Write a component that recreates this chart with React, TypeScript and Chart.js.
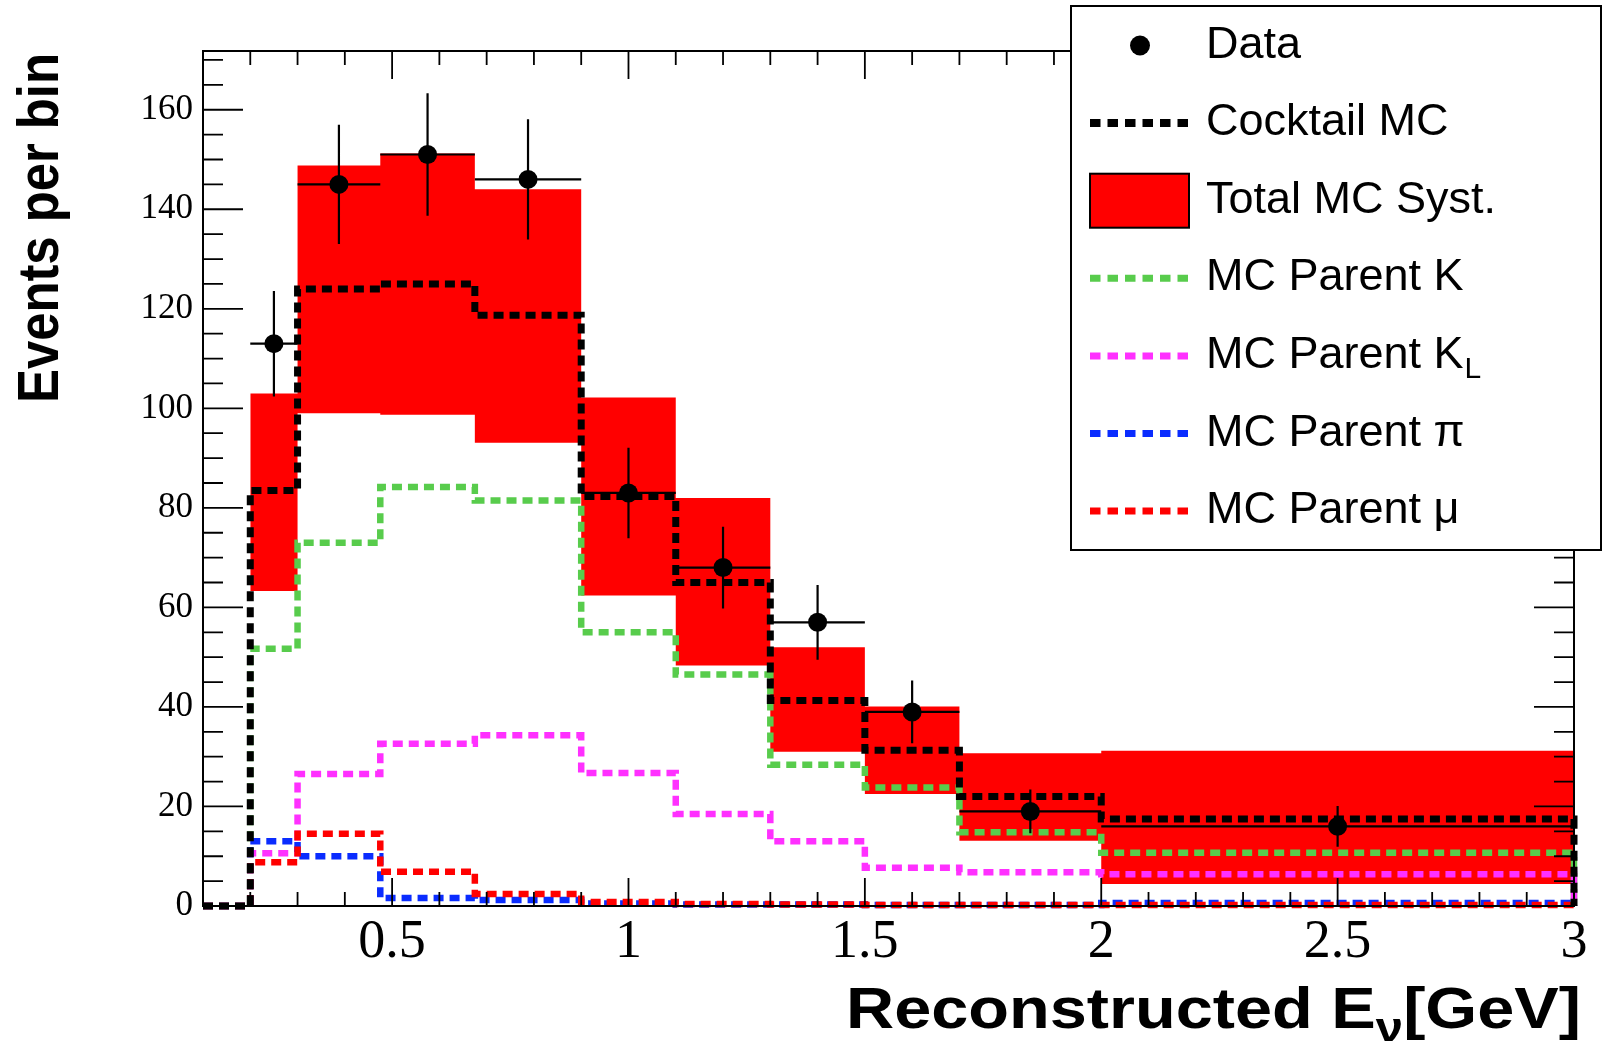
import React, { useEffect, useRef } from "react";
import { Chart, registerables } from "chart.js";

Chart.register(...registerables);

// ---------------- data ----------------
const binEdges = [0.1, 0.2, 0.3, 0.475, 0.675, 0.9, 1.1, 1.3, 1.5, 1.7, 2.0, 3.0];
const cocktailMC = [0, 83.5, 124, 125, 118.7, 82.3, 65, 41.3, 31.3, 22, 17.5];
const parentK = [0, 51.7, 73, 84.2, 81.5, 55, 46.5, 28.4, 23.8, 14.8, 10.7];
const parentKL = [0, 10.6, 26.5, 32.6, 34.3, 26.7, 18.5, 13, 7.7, 6.8, 6.4];
const parentPi = [0, 13, 10, 1.6, 1.2, 0.5, 0.3, 0.3, 0.2, 0.2, 0.6];
const parentMu = [0, 8.8, 14.5, 6.9, 2.4, 0.8, 0.4, 0.3, 0.2, 0.2, 0.2];

const systEdges = [0.2, 0.3, 0.475, 0.675, 0.9, 1.1, 1.3, 1.5, 1.7, 2.0, 3.0];
const systLow = [63.3, 99.0, 98.7, 93.1, 62.4, 48.3, 31, 22.5, 13.1, 4.4];
const systHigh = [103, 148.8, 151.2, 144, 102.2, 82, 52, 40.1, 30.7, 31.2];

const dataLow = [0.2, 0.3, 0.475, 0.675, 0.9, 1.1, 1.3, 1.5, 1.7, 2.0];
const dataHigh = [0.3, 0.475, 0.675, 0.9, 1.1, 1.3, 1.5, 1.7, 2.0, 3.0];
const dataCenter = [0.25, 0.3875, 0.575, 0.7875, 1.0, 1.2, 1.4, 1.6, 1.85, 2.5];
const dataCounts = [113, 145, 151, 146, 83, 68, 57, 39, 19, 16];
const dataErrors = [10.6, 12.0, 12.3, 12.1, 9.1, 8.2, 7.5, 6.3, 4.4, 4.1];

const xTickValues = [0.5, 1, 1.5, 2, 2.5, 3];
const yTickValues = [0, 20, 40, 60, 80, 100, 120, 140, 160];

const xTitleMain = "Reconstructed E";
const xTitleSub = "ν";
const xTitleEnd = "[GeV]";
const yTitle = "Events per bin";

const legendLabels = ["Data", "Cocktail MC", "Total MC Syst.", "MC Parent K", "MC Parent K", "MC Parent π", "MC Parent μ"];

// ---------------- styles ----------------
const COL_K = "#58cc4c";
const COL_KL = "#ff30ff";
const COL_PI = "#0a2cff";
const COL_MU = "#ff0000";
const COL_SYST = "#ff0000";
const SANS = "'Liberation Sans', Arial, sans-serif";
const SERIF = "'Liberation Serif', 'Times New Roman', serif";
const DASH = [10, 6];

function stepPts(edges: number[], vals: number[], drop: boolean) {
  const pts: { x: number; y: number }[] = vals.map((v, i) => ({ x: edges[i], y: v }));
  pts.push({ x: edges[edges.length - 1], y: vals[vals.length - 1] });
  if (drop) pts.push({ x: edges[edges.length - 1], y: 0 });
  return pts;
}

function errorPts() {
  const pts: { x: number; y: number | null }[] = [];
  dataCenter.forEach((c, i) => {
    pts.push({ x: dataLow[i], y: dataCounts[i] });
    pts.push({ x: dataHigh[i], y: dataCounts[i] });
    pts.push({ x: dataHigh[i], y: null });
    pts.push({ x: c, y: dataCounts[i] - dataErrors[i] });
    pts.push({ x: c, y: dataCounts[i] + dataErrors[i] });
    pts.push({ x: c, y: null });
  });
  return pts;
}

function histDS(label: string, vals: number[], color: string, width: number, dash: number[], order: number) {
  return {
    label,
    data: stepPts(binEdges, vals, true),
    borderColor: color,
    backgroundColor: color,
    borderWidth: width,
    borderDash: dash,
    borderCapStyle: "butt",
    borderJoinStyle: "miter",
    stepped: true,
    pointRadius: 0,
    pointHoverRadius: 0,
    fill: false,
    order,
    clip: false,
  };
}

const frameTicksPlugin = {
  id: "frameTicks",
  afterDraw(chart: any) {
    const { ctx, chartArea: a, scales } = chart;
    const xs = scales.x;
    const ys = scales.y;
    ctx.save();
    ctx.strokeStyle = "#000";
    ctx.setLineDash([]);
    ctx.lineWidth = 1.8;
    ctx.beginPath();
    for (let k = 0; k * 5 <= ys.max; k++) {
      const v = k * 5;
      const py = ys.getPixelForValue(v);
      const len = v % 20 === 0 ? 40 : 20;
      ctx.moveTo(a.left, py);
      ctx.lineTo(a.left + len, py);
      ctx.moveTo(a.right, py);
      ctx.lineTo(a.right - len, py);
    }
    for (let k = 2; k <= 30; k++) {
      const px = xs.getPixelForValue(k / 10);
      const len = k % 5 === 0 ? 28 : 14;
      ctx.moveTo(px, a.bottom);
      ctx.lineTo(px, a.bottom - len);
      ctx.moveTo(px, a.top);
      ctx.lineTo(px, a.top + len);
    }
    ctx.stroke();
    ctx.lineWidth = 2;
    ctx.strokeRect(a.left, a.top, a.right - a.left, a.bottom - a.top);
    ctx.restore();
  },
};

const titlesPlugin = {
  id: "titles",
  afterDraw(chart: any) {
    const { ctx } = chart;
    ctx.save();
    ctx.fillStyle = "#000";
    // y title
    ctx.font = `bold 57px ${SANS}`;
    const wy = ctx.measureText(yTitle).width;
    ctx.translate(57.5, 228);
    ctx.rotate(-Math.PI / 2);
    ctx.scale(350 / wy, 1);
    ctx.textAlign = "center";
    ctx.textBaseline = "alphabetic";
    ctx.fillText(yTitle, 0, 0);
    ctx.restore();

    // x title
    ctx.save();
    ctx.fillStyle = "#000";
    ctx.textAlign = "left";
    ctx.textBaseline = "alphabetic";
    const mainFont = `bold 57px ${SANS}`;
    const subFont = `bold 42px ${SANS}`;
    ctx.font = mainFont;
    const w1 = ctx.measureText(xTitleMain).width;
    const w3 = ctx.measureText(xTitleEnd).width;
    ctx.font = subFont;
    const w2 = ctx.measureText(xTitleSub).width;
    const total = w1 + w2 + w3;
    const targetW = 735;
    ctx.translate(846, 1028);
    ctx.scale(targetW / total, 1);
    ctx.font = mainFont;
    ctx.fillText(xTitleMain, 0, 0);
    ctx.font = subFont;
    ctx.fillText(xTitleSub, w1, 14);
    ctx.font = mainFont;
    ctx.fillText(xTitleEnd, w1 + w2, 0);
    ctx.restore();
  },
};

const legendPlugin = {
  id: "rootLegend",
  afterDraw(chart: any) {
    const { ctx } = chart;
    const x0 = 1071, y0 = 6, x1 = 1601, y1 = 550;
    ctx.save();
    ctx.fillStyle = "#fff";
    ctx.fillRect(x0, y0, x1 - x0, y1 - y0);
    ctx.strokeStyle = "#000";
    ctx.lineWidth = 2;
    ctx.setLineDash([]);
    ctx.strokeRect(x0, y0, x1 - x0, y1 - y0);

    const rowY = (i: number) => 45.5 + 77.6 * i;
    const sx0 = 1090, sx1 = 1189;
    // Data marker
    ctx.fillStyle = "#000";
    ctx.beginPath();
    ctx.arc(1140, rowY(0), 10, 0, Math.PI * 2);
    ctx.fill();
    // Lines
    const drawLine = (i: number, color: string, w: number) => {
      ctx.strokeStyle = color;
      ctx.lineWidth = w;
      ctx.setLineDash([10.5, 7]);
      ctx.lineCap = "butt";
      ctx.beginPath();
      ctx.moveTo(sx0, rowY(i));
      ctx.lineTo(sx1, rowY(i));
      ctx.stroke();
    };
    drawLine(1, "#000", 8);
    // Syst box
    ctx.setLineDash([]);
    ctx.fillStyle = COL_SYST;
    ctx.fillRect(sx0, rowY(2) - 27, sx1 - sx0, 54);
    ctx.strokeStyle = "#000";
    ctx.lineWidth = 2;
    ctx.strokeRect(sx0, rowY(2) - 27, sx1 - sx0, 54);
    drawLine(3, COL_K, 7);
    drawLine(4, COL_KL, 7);
    drawLine(5, COL_PI, 7);
    drawLine(6, COL_MU, 7);
    ctx.setLineDash([]);

    // Texts
    ctx.fillStyle = "#000";
    ctx.textAlign = "left";
    ctx.textBaseline = "alphabetic";
    legendLabels.forEach((t, i) => {
      const by = rowY(i) + 12;
      ctx.font = `45px ${SANS}`;
      ctx.fillText(t, 1206, by);
      if (i === 4) {
        const w = ctx.measureText(t).width;
        ctx.font = `30px ${SANS}`;
        ctx.fillText("L", 1206 + w + 1, by + 10);
      }
    });
    ctx.restore();
  },
};

export default function App() {
  const canvasRef = useRef<HTMLCanvasElement | null>(null);

  useEffect(() => {
    if (!canvasRef.current) return;
    const chart = new Chart(canvasRef.current, {
      type: "line",
      data: {
        datasets: [
          {
            label: "Data",
            data: dataCenter.map((c, i) => ({ x: c, y: dataCounts[i] })),
            showLine: false,
            pointRadius: 9.5,
            pointHoverRadius: 9.5,
            pointStyle: "circle",
            pointBackgroundColor: "#000",
            pointBorderWidth: 0,
            borderColor: "#000",
            order: 0,
            clip: false,
          },
          {
            label: "Data errors",
            data: errorPts(),
            borderColor: "#000",
            borderWidth: 2.2,
            pointRadius: 0,
            pointHoverRadius: 0,
            spanGaps: false,
            fill: false,
            order: 1,
            clip: false,
          },
          histDS("Cocktail MC", cocktailMC, "#000", 7, DASH, 2),
          histDS("MC Parent mu", parentMu, COL_MU, 6.5, DASH, 3),
          histDS("MC Parent pi", parentPi, COL_PI, 6.5, DASH, 4),
          histDS("MC Parent KL", parentKL, COL_KL, 6.5, DASH, 5),
          histDS("MC Parent K", parentK, COL_K, 6.5, DASH, 6),
          {
            label: "Syst high",
            data: stepPts(systEdges, systHigh, false),
            borderColor: "rgba(0,0,0,0)",
            borderWidth: 0,
            backgroundColor: COL_SYST,
            stepped: true,
            pointRadius: 0,
            pointHoverRadius: 0,
            fill: "+1",
            order: 7,
          },
          {
            label: "Syst low",
            data: stepPts(systEdges, systLow, false),
            borderColor: "rgba(0,0,0,0)",
            borderWidth: 0,
            backgroundColor: COL_SYST,
            stepped: true,
            pointRadius: 0,
            pointHoverRadius: 0,
            fill: false,
            order: 8,
          },
        ],
      } as any,
      options: {
        animation: false,
        responsive: false,
        devicePixelRatio: 1,
        events: [],
        layout: { padding: { top: 51, right: 29, bottom: 0, left: 0 }, autoPadding: false },
        plugins: { legend: { display: false }, tooltip: { enabled: false }, title: { display: false } },
        scales: {
          x: {
            type: "linear",
            min: 0.1,
            max: 3.0,
            afterBuildTicks: (s: any) => {
              s.ticks = xTickValues.map((v) => ({ value: v }));
            },
            afterFit: (s: any) => {
              s.height = 135;
            },
            grid: { display: false, drawTicks: false },
            border: { display: false },
            ticks: {
              autoSkip: false,
              maxRotation: 0,
              minRotation: 0,
              padding: 4,
              color: "#000",
              font: { family: SERIF, size: 54 },
              callback: (v: any) => String(v),
            },
          },
          y: {
            type: "linear",
            min: 0,
            max: 171.8,
            afterBuildTicks: (s: any) => {
              s.ticks = yTickValues.map((v) => ({ value: v }));
            },
            afterFit: (s: any) => {
              s.width = 203;
            },
            grid: { display: false, drawTicks: false },
            border: { display: false },
            ticks: {
              autoSkip: false,
              padding: 10,
              color: "#000",
              font: { family: SERIF, size: 35 },
              callback: (v: any) => String(v),
            },
          },
        },
      } as any,
      plugins: [frameTicksPlugin, titlesPlugin, legendPlugin],
    });
    return () => chart.destroy();
  }, []);

  return (
    <div style={{ position: "fixed", left: 0, top: 0, width: 1603, height: 1041, background: "#fff" }}>
      <canvas ref={canvasRef} width={1603} height={1041} style={{ display: "block", width: 1603, height: 1041 }} />
    </div>
  );
}
